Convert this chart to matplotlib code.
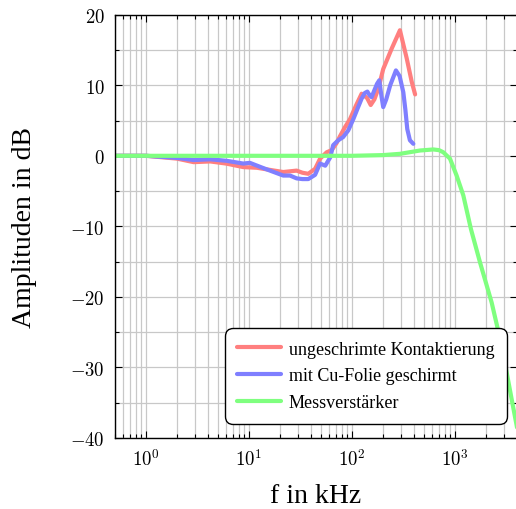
import math
import matplotlib
matplotlib.use("Agg")
import matplotlib.pyplot as plt
from matplotlib.ticker import LogLocator, MultipleLocator, FuncFormatter, NullFormatter

# ---- data ----
red_f = [0.5, 1, 2, 2.9, 4.2, 6, 8.8, 12, 16, 21.5, 29, 33, 37.6, 43.8, 49, 56.8, 63.5,
         70.8, 76, 85, 95.6, 110, 124, 140, 152, 165, 180, 201, 243, 292, 340, 380, 410]
red_db = [0, 0, -0.4, -0.9, -0.8, -1.1, -1.6, -1.7, -2.0, -2.3, -2.1, -2.4, -2.55, -1.85,
          -0.4, 0.5, 0.8, 1.8, 2.7, 4.0, 5.2, 7.2, 8.8, 8.2, 7.2, 8.0, 9.5, 12.3, 15.2,
          17.8, 13.8, 10.5, 8.7]

blue_f = [0.5, 1, 2, 2.9, 4.2, 6, 8.8, 10.2, 13, 16, 21.5, 25, 29, 33, 37.6, 43.8, 48.9,
          55, 61.6, 65.6, 73.5, 82, 92, 103, 114, 124, 133, 141, 148, 155, 165, 175, 184,
          193, 201, 215, 235, 267, 290, 315, 330, 344, 365, 394]
blue_db = [0, 0, -0.3, -0.6, -0.5, -0.7, -1.1, -1.0, -1.6, -2.1, -2.8, -2.8, -3.2, -3.3,
           -3.3, -2.7, -1.1, -1.4, -0.2, 1.5, 2.2, 2.65, 3.6, 5.2, 6.8, 8.1, 8.9, 9.1, 8.6,
           8.3, 9.3, 10.2, 10.7, 8.5, 6.9, 8.0, 10.0, 12.1, 11.3, 9.0, 6.5, 3.8, 2.2, 1.7]

green_f = [0.5, 10, 100, 200, 293, 457, 617, 700, 770, 894, 1037, 1204, 1429, 1749, 2270,
           2838, 3550, 4000]
green_db = [0, 0, 0, 0.1, 0.28, 0.75, 0.9, 0.8, 0.5, -0.4, -2.8, -5.6, -10.4, -15.1, -20.8,
            -26.9, -34.5, -38.5]

labels = ["ungeschrimte Kontaktierung", "mit Cu-Folie geschirmt", "Messverstärker"]
colors = ["#ff7f7f", "#7f7fff", "#7fff7f"]
xlabel = "f in kHz"
ylabel = "Amplituden in dB"
yticks = [-40, -30, -20, -10, 0, 10, 20]

plt.rcParams["mathtext.fontset"] = "cm"
serif = ["Liberation Serif", "DejaVu Serif"]

fig = plt.figure(figsize=(5.16, 5.10), dpi=100)
ax = fig.add_axes([115 / 516, 1 - 439 / 510, 402 / 516, (439 - 15.7) / 510])

for f, d, c, lab in zip([red_f, blue_f, green_f], [red_db, blue_db, green_db], colors, labels):
    ax.plot(f, d, color=c, lw=3, label=lab, solid_capstyle="round", solid_joinstyle="round")

ax.set_xscale("log")
ax.set_xlim(0.5, 4000)
ax.set_ylim(-40, 20)
ax.xaxis.set_major_locator(LogLocator(base=10, numticks=10))
ax.xaxis.set_minor_locator(LogLocator(base=10, subs=range(2, 10), numticks=20))
ax.xaxis.set_minor_formatter(NullFormatter())
ax.xaxis.set_major_formatter(FuncFormatter(lambda v, p: r"$10^{%d}$" % round(math.log10(v))))
ax.set_yticks(yticks)
ax.yaxis.set_minor_locator(MultipleLocator(5))
ax.yaxis.set_major_formatter(FuncFormatter(lambda v, p: r"$%d$" % v))

ax.grid(True, which="both", color="#c8c8c8", lw=0.9)
ax.set_axisbelow(True)
ax.tick_params(which="both", direction="in", top=True, right=True, labelsize=13.5)
ax.tick_params(which="major", length=5, width=0.8, pad=7.5)
ax.tick_params(which="minor", length=3, width=0.8)
for s in ax.spines.values():
    s.set_linewidth(1.0)

ax.set_xlabel(xlabel, fontsize=20, family=serif)
ax.set_ylabel(ylabel, fontsize=20, family=serif)
ax.xaxis.set_label_coords(0.5, (439 - 484) / (439 - 15.7))
ax.yaxis.set_label_coords((37 - 115) / 402, 0.5)

leg = ax.legend(loc="lower right", bbox_to_anchor=(0.975, 0.033), borderaxespad=0,
                prop={"family": serif, "size": 13}, frameon=True, fancybox=True,
                edgecolor="black", framealpha=1, handlelength=2.4, handletextpad=0.45,
                labelspacing=0.55, borderpad=0.7)
leg.get_frame().set_linewidth(1.0)
leg.get_frame().set_boxstyle("round,pad=0,rounding_size=0.45")

fig.savefig("out.png", dpi=100)
